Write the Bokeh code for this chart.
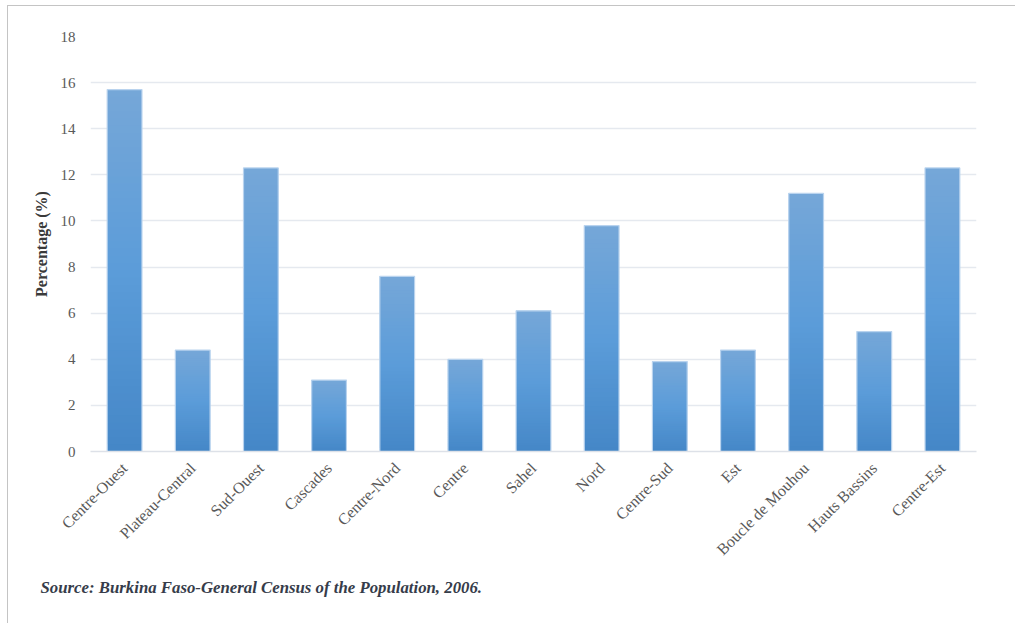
import numpy as np
from math import pi

from bokeh.plotting import figure
from bokeh.models import (ColumnDataSource, FactorRange, Range1d, FixedTicker,
                          Title, InlineStyleSheet)
from bokeh.embed import file_html
from bokeh.resources import INLINE

# Share of the population by region (%)
regions = ["Centre-Ouest", "Plateau-Central", "Sud-Ouest", "Cascades",
           "Centre-Nord", "Centre", "Sahel", "Nord", "Centre-Sud", "Est",
           "Boucle de Mouhou", "Hauts Bassins", "Centre-Est"]
percentages = [15.7, 4.4, 12.3, 3.1, 7.6, 4.0, 6.1, 9.8, 3.9, 4.4, 11.2, 5.2, 12.3]
y_ticks = [0, 2, 4, 6, 8, 10, 12, 14, 16, 18]
y_title = "Percentage (%)"
source_note = "Source: Burkina Faso-General Census of the Population, 2006."

SERIF = "Liberation Serif"
BAR_W = 0.51

p = figure(width=1015, height=623, output_backend="svg", toolbar_location=None,
           x_range=FactorRange(*regions), y_range=Range1d(0, 18),
           min_border_left=90, min_border_right=39,
           min_border_top=36, min_border_bottom=172,
           background_fill_color="white", border_fill_color="white")
p.outline_line_color = None

# vertical gradient inside every bar: overlapping slices from the base up to the value
stops_f = [0.0, 0.5, 1.0]
stops_c = [(0x45, 0x87, 0xc7), (0x5b, 0x9c, 0xd9), (0x76, 0xa7, 0xd8)]
n_slices = 50
xs, bots, tops, cols = [], [], [], []
for reg, val in zip(regions, percentages):
    edges = np.linspace(0, val, n_slices + 1)
    step = val / n_slices
    for k in range(n_slices):
        f = (k + 0.5) / n_slices
        rgb = [int(round(np.interp(f, stops_f, [c[i] for c in stops_c]))) for i in range(3)]
        xs.append(reg)
        bots.append(edges[k])
        tops.append(min(edges[k + 1] + step, val))
        cols.append("#%02x%02x%02x" % tuple(rgb))
slices = ColumnDataSource(dict(x=xs, bottom=bots, top=tops, color=cols))
p.vbar(x="x", bottom="bottom", top="top", width=BAR_W, source=slices,
       fill_color="color", line_color=None)

# light rim around each bar
bars = ColumnDataSource(dict(x=regions, top=percentages))
p.vbar(x="x", top="top", bottom=0, width=BAR_W, source=bars,
       fill_color=None, line_color="#b9d3ee", line_width=1.2)

# grid
p.xgrid.grid_line_color = None
p.ygrid.grid_line_color = "#e5e9ef"
p.ygrid.grid_line_width = 1.6
p.ygrid.ticker = FixedTicker(ticks=y_ticks)

# y axis
p.yaxis.ticker = FixedTicker(ticks=y_ticks)
p.yaxis.axis_line_color = None
p.yaxis.major_tick_line_color = None
p.yaxis.minor_tick_line_color = None
p.yaxis.major_label_text_font = SERIF
p.yaxis.major_label_text_font_size = "15px"
p.yaxis.major_label_text_color = "#595959"
p.yaxis.major_label_standoff = 9
p.yaxis.axis_label = y_title
p.yaxis.axis_label_text_font = SERIF
p.yaxis.axis_label_text_font_style = "bold"
p.yaxis.axis_label_text_font_size = "16px"
p.yaxis.axis_label_text_color = "#3a3a3a"
p.yaxis.axis_label_standoff = 8

# x axis
p.xaxis.axis_line_color = "#dde1e8"
p.xaxis.axis_line_width = 1.6
p.xaxis.major_tick_line_color = None
p.xaxis.minor_tick_line_color = None
p.xaxis.major_label_orientation = pi / 4
p.xaxis.major_label_text_font = SERIF
p.xaxis.major_label_text_font_size = "16px"
p.xaxis.major_label_text_color = "#595959"
p.xaxis.major_label_standoff = 8

# source note under the chart
p.add_layout(Title(text=source_note, align="left", offset=-50, standoff=17,
                   text_font=SERIF, text_font_size="16.8px",
                   text_font_style="bold italic", text_color="#363c4a"), "below")

# thin frame on the top and left edges of the page
p.stylesheets = [InlineStyleSheet(css="""
:host { position: relative; }
:host::after {
  content: ""; position: absolute; left: 7px; top: 5px; right: 0; bottom: 0;
  border-top: 1.5px solid #c4c4c4; border-left: 1.5px solid #c4c4c4;
  pointer-events: none; z-index: 20;
}
""")]

open("out.html", "w").write(file_html(p, INLINE))
